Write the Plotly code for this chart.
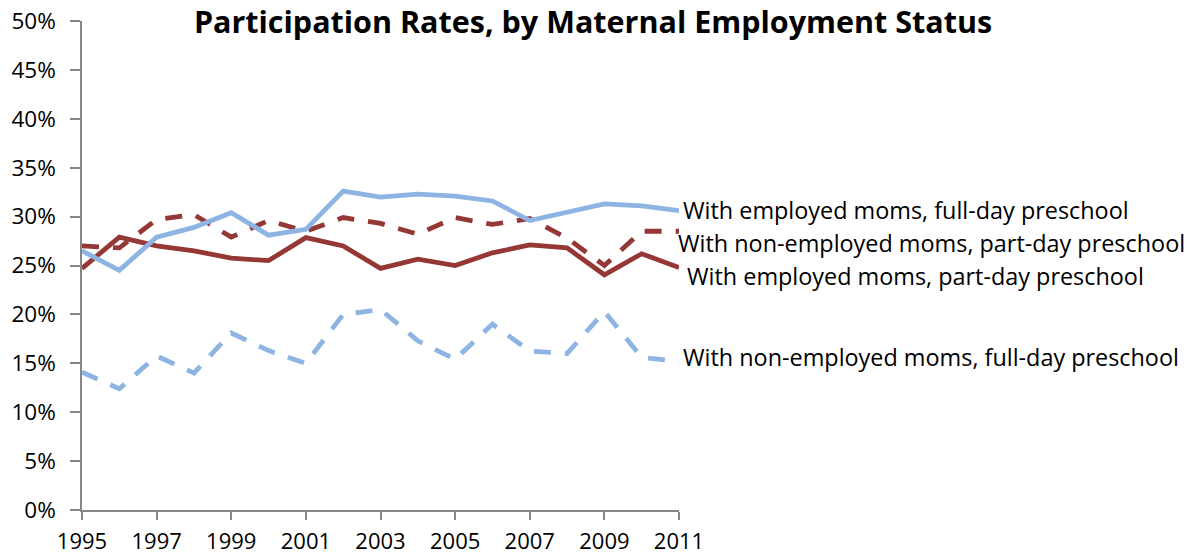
import plotly.graph_objects as go

years = list(range(1995, 2012))

emp_full = [26.5, 24.5, 27.9, 28.9, 30.4, 28.1, 28.7, 32.6, 32.0, 32.3, 32.1, 31.6, 29.6, 30.5, 31.3, 31.1, 30.6]
nonemp_part = [27.0, 26.8, 29.7, 30.2, 27.9, 29.6, 28.5, 29.9, 29.3, 28.2, 29.9, 29.2, 29.8, 27.8, 25.0, 28.5, 28.5]
emp_part = [24.7, 27.9, 27.0, 26.5, 25.75, 25.5, 27.85, 27.0, 24.7, 25.65, 25.0, 26.3, 27.1, 26.8, 24.05, 26.2, 24.8]
nonemp_full = [14.1, 12.4, 15.75, 14.0, 18.1, 16.3, 15.0, 20.0, 20.5, 17.3, 15.4, 19.0, 16.25, 16.0, 20.3, 15.6, 15.2]

series_names = [
    "With employed moms, full-day preschool",
    "With non-employed moms, part-day preschool",
    "With employed moms, part-day preschool",
    "With non-employed moms, full-day preschool",
]
y_ticks = [0, 5, 10, 15, 20, 25, 30, 35, 40, 45, 50]
x_ticks = list(range(1995, 2012, 2))

BLUE = "#8DB4E2"
RED = "#953735"
DASH = "17px,14px"
FONT = "Open Sans, Lato, sans-serif"

fig = go.Figure()
fig.add_trace(go.Scatter(x=years, y=nonemp_full, mode="lines", name=series_names[3],
                         line=dict(color=BLUE, width=4.8, dash=DASH)))
fig.add_trace(go.Scatter(x=years, y=nonemp_part, mode="lines", name=series_names[1],
                         line=dict(color=RED, width=4.8, dash=DASH)))
fig.add_trace(go.Scatter(x=years, y=emp_part, mode="lines", name=series_names[2],
                         line=dict(color=RED, width=4.8)))
fig.add_trace(go.Scatter(x=years, y=emp_full, mode="lines", name=series_names[0],
                         line=dict(color=BLUE, width=4.8)))

X0, X1, Y0, Y1 = 82, 679, 510, 20.5
L, R, T, B = X0, 1190 - X1, Y1, 556 - Y0
PW, PH = X1 - X0, Y0 - Y1

def px(xp):
    return (xp - X0) / PW

def py(yp):
    return (Y0 - yp) / PH

labels = [
    (series_names[0], 681, 210),
    (series_names[1], 676, 243),
    (series_names[2], 685, 276),
    (series_names[3], 681, 357),
]
for text, xp, yp in labels:
    fig.add_annotation(text=text, xref="paper", yref="paper", x=px(xp), y=py(yp),
                       xanchor="left", yanchor="middle", showarrow=False,
                       font=dict(family=FONT, size=23.4, color="#000000"))

fig.update_layout(
    width=1190, height=556,
    margin=dict(l=L, r=R, t=T, b=B),
    paper_bgcolor="white", plot_bgcolor="white",
    showlegend=False,
    title=dict(text="<b>Participation Rates, by Maternal Employment Status</b>",
               x=593 / 1190, xanchor="center", y=1 - 22 / 556, yanchor="middle",
               font=dict(family=FONT, size=30.5, color="#000000")),
    font=dict(family=FONT, size=22.5, color="#000000"),
)
fig.update_xaxes(range=[1995, 2011], tickvals=x_ticks, ticktext=[str(v) for v in x_ticks],
                 showgrid=False, zeroline=False, showline=True, linecolor="#868686", linewidth=1.5,
                 ticks="outside", ticklen=8, tickcolor="#868686", tickwidth=1.5,
                 tickfont=dict(size=22), ticklabelstandoff=3, automargin=False)
fig.update_yaxes(range=[0, 50], tickvals=y_ticks, ticktext=[f"{v}%" for v in y_ticks],
                 showgrid=False, zeroline=False, showline=True, linecolor="#868686", linewidth=1.5,
                 ticks="outside", ticklen=10, tickcolor="#868686", tickwidth=1.5,
                 ticklabelstandoff=10, automargin=False)

fig.write_html("out.html", config={"displayModeBar": False},
               post_script="document.body.style.margin='0px';")
